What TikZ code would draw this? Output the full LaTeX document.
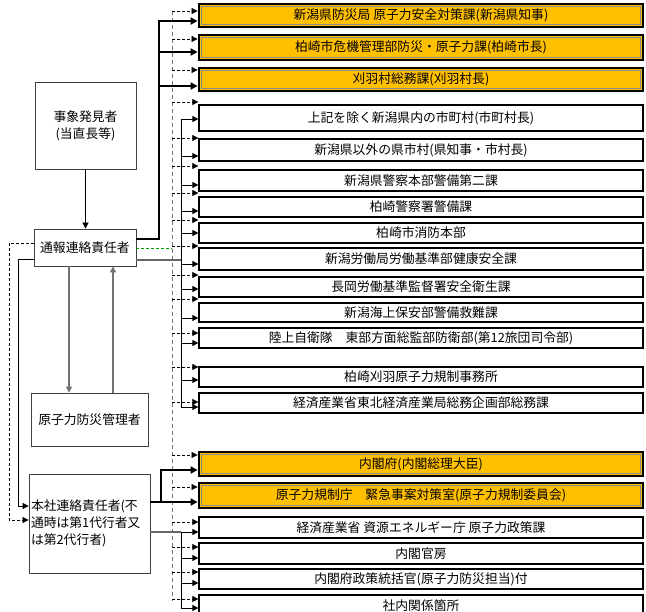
\documentclass[tikz,border=0pt]{standalone}
\usepackage{fontspec}
\setmainfont{Noto Sans CJK JP}
\usetikzlibrary{arrows.meta}
\definecolor{gold}{HTML}{FFC000}
\tikzset{
  tip/.style={-{Triangle[length=6pt,width=6pt]}},
  rbox/.style={draw=black, line width=1.3pt, fill=white, minimum width=444pt, inner sep=0pt, font=\fontsize{12.8}{14}\selectfont},
  obox/.style={rbox, fill=gold, line width=2.8pt,
    path picture={\draw[black!45, line width=0.7pt] ([shift={(2.4pt,-2.4pt)}]path picture bounding box.north west) rectangle ([shift={(-2.4pt,2.4pt)}]path picture bounding box.south east);}},
  lbox/.style={draw=black!75, line width=0.8pt, fill=white, inner sep=2pt, font=\fontsize{12.8}{17}\selectfont},
  darr/.style={tip, dash pattern=on 3pt off 2pt, line width=0.7pt},
  dtrunk/.style={black!55, dash pattern=on 4pt off 3pt, line width=0.8pt},
  sarr/.style={tip, line width=0.8pt},
  garr/.style={tip, black!55, line width=1.3pt},
  gline/.style={black!60, line width=1.3pt},
  tarr/.style={-{Triangle[length=7pt,width=7pt]}, line width=2.2pt},
}
\newcommand{\rb}[5]{\node[#4, minimum height={#3-#2}] (#1) at (421,{(#2+#3)/2}) {#5};}
\begin{document}
\begin{tikzpicture}[x=1pt,y=-1pt]
\useasboundingbox (0,0) rectangle (646,612);
\clip (0,0) rectangle (646,612);
\fill[white] (0,0) rectangle (646,612);

% left boxes
\node[lbox, minimum width=101pt, minimum height=87pt, align=center] (ev) at (85.5,125.5) {事象発見者\\(当直長等)};
\node[lbox, minimum width=102pt, minimum height=37pt] (tsu) at (85,247.5) {通報連絡責任者};
\node[lbox, minimum width=117pt, minimum height=53pt] (mgr) at (89.5,419.5) {原子力防災管理者};
\node[lbox, minimum width=121pt, minimum height=99pt, text width=117pt, align=left] (hq) at (89.5,523.5) {本社連絡責任者(不\\通時は第1代行者又\\は第2代行者)};

% right boxes
\rb{b1}{4}{27}{obox}{新潟県防災局 原子力安全対策課(新潟県知事)}
\rb{b2}{35}{60}{obox}{柏崎市危機管理部防災・原子力課(柏崎市長)}
\rb{b3}{68}{91}{obox}{刈羽村総務課(刈羽村長)}
\rb{b4}{105}{131}{rbox}{上記を除く新潟県内の市町村(市町村長)}
\rb{b5}{139}{161}{rbox}{新潟県以外の県市村(県知事・市村長)}
\rb{b6}{170}{191}{rbox}{新潟県警察本部警備第二課}
\rb{b7}{197}{217}{rbox}{柏崎警察署警備課}
\rb{b8}{223}{243}{rbox}{柏崎市消防本部}
\rb{b9}{248}{270}{rbox}{新潟労働局労働基準部健康安全課}
\rb{b10}{277}{297}{rbox}{長岡労働基準監督署安全衛生課}
\rb{b11}{303}{322}{rbox}{新潟海上保安部警備救難課}
\rb{b12}{328}{348}{rbox}{陸上自衛隊　東部方面総監部防衛部(第12旅団司令部)}
\rb{b13}{367}{387}{rbox}{柏崎刈羽原子力規制事務所}
\rb{b14}{393}{413}{rbox}{経済産業省東北経済産業局総務企画部総務課}
\rb{b15}{452}{476}{obox}{内閣府(内閣総理大臣)}
\rb{b16}{483}{508}{obox}{原子力規制庁　緊急事案対策室(原子力規制委員会)}
\rb{b17}{517}{538}{rbox}{経済産業省 資源エネルギー庁 原子力政策課}
\rb{b18}{543}{564}{rbox}{内閣官房}
\rb{b19}{569}{589}{rbox}{内閣府政策統括官(原子力防災担当)付}
\rb{b20}{595}{617}{rbox}{社内関係箇所}

% left connectors
\draw[sarr] (ev.south) -- (ev.south |- tsu.north);
\draw[garr] (tsu.south -| 69,0) -- (mgr.north -| 69,0);
\draw[garr] (mgr.north -| 113,0) -- (tsu.south -| 113,0);
\draw[darr] (tsu.west |- 0,243) -| (9,520) -- (hq.west |- 0,520);
\draw[sarr] (tsu.west |- 0,259) -| (18,506) -- (hq.west |- 0,506);

% dashed trunk
\draw[dtrunk] (172,11) -- (172,601);
\foreach \y/\b in {11/b1,39/b2,70/b3,102/b4,138/b5,166/b6,193/b7,220/b8,246/b9,275/b10,299/b11,333/b12,367/b13,402/b14,455/b15,487/b16,522/b17,547/b18,572/b19,599/b20}
  \draw[darr] (172,\y) -- (\b.west |- 0,\y);
\draw[green!60!black, dash pattern=on 3pt off 2pt, line width=0.8pt] (tsu.east |- 0,248) -- (172,248);

% thick lines from tsu
\draw[tarr] (tsu.east |- 0,239) -| (159,21) -- (b1.west |- 0,21);
\draw[tarr] (159,52) -- (b2.west |- 0,52);
\draw[tarr] (159,86) -- (b3.west |- 0,86);

% solid trunk upper
\draw[gline] (tsu.east |- 0,260) -- (181,260);
\draw[line width=0.8pt] (181,119) -- (181,407);
\foreach \y/\b in {119/b4,156/b5,185/b6,211/b7,233/b8,264/b9,289/b10,318/b11,343/b12,380/b13,407/b14}
  \draw[sarr] (181,\y) -- (\b.west |- 0,\y);

% from hq
\draw[tarr] (hq.east |- 0,502) -| (161,470) -- (b15.west |- 0,470);
\draw[tarr] (161,502) -- (b16.west |- 0,502);
\draw[gline] (hq.east |- 0,532) -- (181,532);
\draw[line width=0.8pt] (181,532) -- (181,608);
\foreach \y/\b in {532/b17,558/b18,583/b19,608/b20}
  \draw[sarr] (181,\y) -- (\b.west |- 0,\y);
\end{tikzpicture}
\end{document}
